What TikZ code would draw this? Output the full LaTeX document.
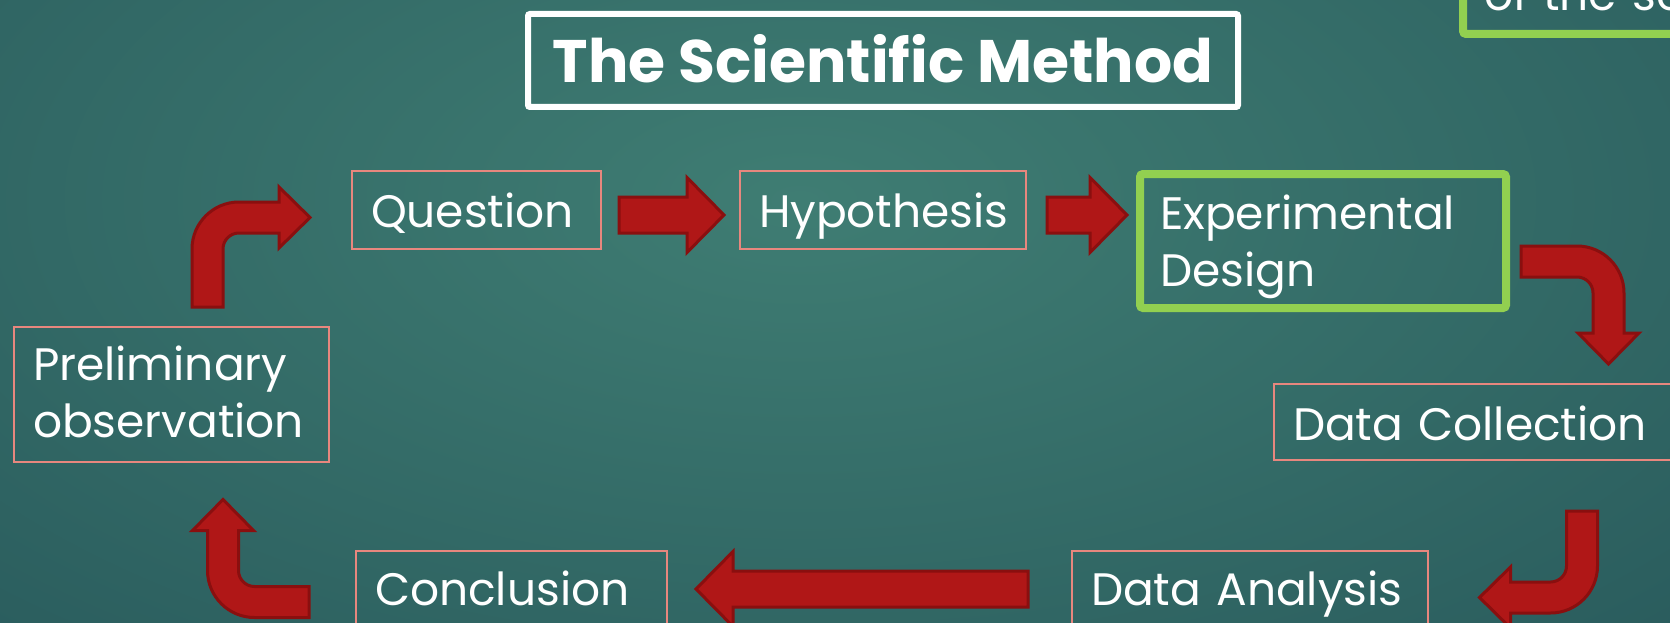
\documentclass[tikz,border=0pt]{standalone}
\usepackage{fontspec}
\setmainfont{Poppins}
\usetikzlibrary{calc}
\definecolor{bgteal}{HTML}{3F7D73}
\definecolor{bgdark}{HTML}{1D4850}
\definecolor{arrowred}{HTML}{B01717}
\definecolor{arrowdark}{HTML}{8A0F0F}
\definecolor{boxpink}{HTML}{E8877E}
\definecolor{boxgreen}{HTML}{92D050}
\pgfdeclareradialshading{slideglow}{\pgfpoint{0bp}{0bp}}{color(0bp)=(bgteal); color(50bp)=(bgdark)}

\begin{document}
\begin{tikzpicture}[x=1pt, y=1pt,
  stage/.style={draw=boxpink, line width=2pt, text=white, anchor=north west,
    align=left, inner xsep=19pt, inner ysep=0pt, minimum height=78pt,
    text height=41pt, text depth=7pt, font=\fontsize{45.5}{57}\selectfont},
  block/.style={fill=arrowred, draw=arrowdark, line width=3pt},
  pics/flatarrow/.style={code={
    \draw[block] (0,-18) -- (#1-37,-18) -- (#1-37,-37.5) -- (#1,0)
      -- (#1-37,37.5) -- (#1-37,18) -- (0,18) -- cycle;}},
  pics/bentarrow/.style={code={
    \draw[block] (-47,-#1) -- (-47,0) arc[start angle=180, end angle=90, radius=47]
      -- (40,47) -- (40,62) -- (71,31.5) -- (40,1) -- (40,16) -- (0,16)
      arc[start angle=90, end angle=180, radius=16] -- (-16,-#1) -- cycle;}}]
  \useasboundingbox (0,0) rectangle (1670,-623);
  \clip (0,0) rectangle (1670,-623);
  % slide background
  \fill[bgdark] (0,0) rectangle (1670,-623);
  \shade[shading=slideglow] (-200,300) rectangle (1800,-700);

  \node[draw=white, line width=6pt, rounded corners=2pt, text=white,
    minimum width=710pt, minimum height=93pt, text height=45pt, text depth=0pt,
    font=\fontsize{60}{70}\selectfont\bfseries] (title) at (883,-60.5) {The Scientific Method};
  \node[stage, draw=boxgreen, line width=8pt, rounded corners=3pt, anchor=south west,
    inner xsep=21pt, minimum height=0pt, text width=300pt, text height=60pt,
    text depth=23pt] (note) at (1459,-38) {of the sc};

  % the steps
  \node[stage, text width=211pt] (question) at (351,-170) {Question};
  \node[stage, text width=248pt] (hypothesis) at (739,-170) {Hypothesis};
  \node[stage, draw=boxgreen, line width=8pt, rounded corners=3pt, inner xsep=20pt,
    text width=326pt, minimum height=134pt, text height=40.5pt,
    text depth=64.5pt] (design) at (1136,-170) {Experimental\\Design};
  \node[stage, text width=420pt, minimum height=76pt, text height=42pt,
    text depth=6pt] (collection) at (1273,-383) {Data Collection};
  \node[stage, text width=318pt, text height=39pt, text depth=9pt] (analysis) at (1071,-550) {Data Analysis};
  \node[stage, text width=273pt, text height=39pt, text depth=9pt] (conclusion) at (355,-550) {Conclusion};
  \node[stage, text width=277pt, minimum height=135pt, text height=38pt,
    text depth=67pt] (prelim) at (13,-326) {Preliminary\\observation};

  % block arrows between the steps
  \path ($(question.east)+(17,-5)$) pic {flatarrow=105};
  \path ($(hypothesis.east)+(20,-5)$) pic {flatarrow=80};
  \path ($(analysis.west)+(-43,1)$) pic[rotate=180] {flatarrow=332};
  \pic at (239,-249) {bentarrow=58};
  \pic[rotate=-90] at (1577,-293) {bentarrow=56};
  \pic[rotate=180] at (1550.5,-566) {bentarrow=55};
  \pic[rotate=90] at (254.5,-570.5) {bentarrow=54.5};
\end{tikzpicture}
\end{document}
